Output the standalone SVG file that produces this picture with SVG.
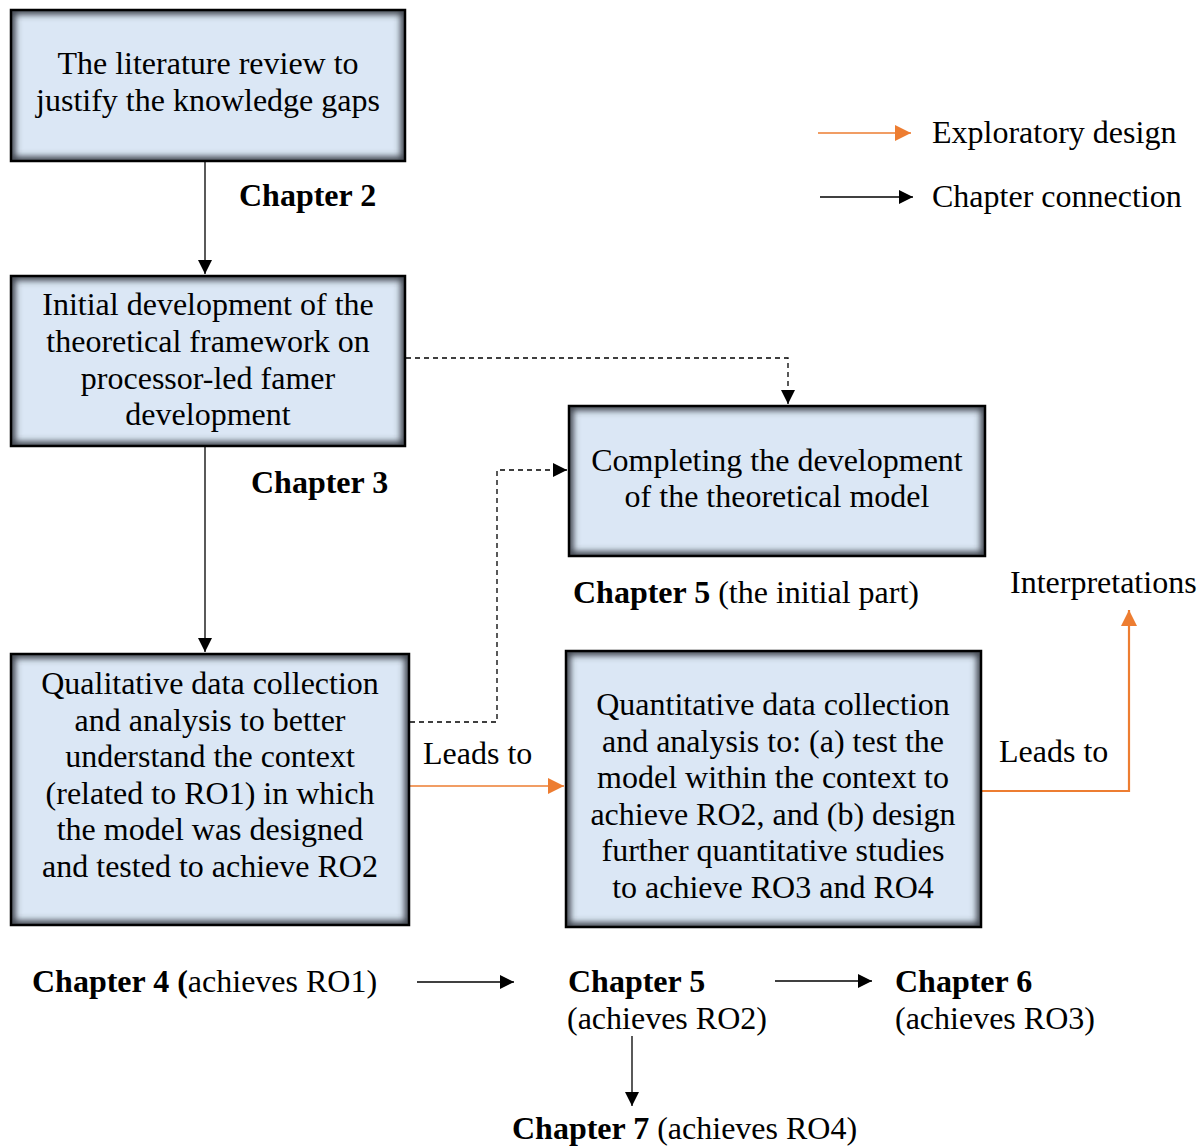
<svg xmlns="http://www.w3.org/2000/svg" width="1204" height="1146" viewBox="0 0 1204 1146">
  <defs>
    <style>
      text { font-family: "Liberation Serif", "Times New Roman", serif; font-size: 32px; fill: #000; }
      .c { text-anchor: middle; }
      .b { font-weight: bold; }
      .fill { fill: #dbe7f5; }
      .shade { fill: none; stroke: #3c434c; stroke-width: 9; filter: url(#soft); }
      .frame { fill: none; stroke: #000; stroke-width: 2.5; }
      .blk { fill: none; stroke: #000; stroke-width: 1.3; }
      .dash { fill: none; stroke: #000; stroke-width: 1.3; stroke-dasharray: 5 4; }
      .org { fill: none; stroke: #ed7d31; stroke-width: 2.2; }
      .orgthin { fill: none; stroke: #ed7d31; stroke-width: 1.5; }
    </style>
    <filter id="soft" x="-10%" y="-10%" width="120%" height="120%">
      <feGaussianBlur stdDeviation="3"/>
    </filter>
    <clipPath id="k1"><rect x="11" y="10" width="394" height="151"/></clipPath>
    <clipPath id="k2"><rect x="11" y="276" width="394" height="170"/></clipPath>
    <clipPath id="k3"><rect x="569" y="406" width="416" height="150"/></clipPath>
    <clipPath id="k4"><rect x="11" y="654" width="398" height="271"/></clipPath>
    <clipPath id="k5"><rect x="566" y="651" width="415" height="276"/></clipPath>
    <marker id="ah" viewBox="0 0 14 14" refX="14" refY="7" markerWidth="14" markerHeight="14" markerUnits="userSpaceOnUse" orient="auto">
      <path d="M0,0 L14,7 L0,14 Z" fill="#000"/>
    </marker>
    <marker id="ahO" viewBox="0 0 16 16" refX="16" refY="8" markerWidth="16" markerHeight="16" markerUnits="userSpaceOnUse" orient="auto">
      <path d="M0,0 L16,8 L0,16 Z" fill="#ed7d31"/>
    </marker>
  </defs>

  <!-- connectors -->
  <g id="connectors">
    <line class="blk" x1="205" y1="162" x2="205" y2="274" marker-end="url(#ah)"/>
    <line class="blk" x1="205" y1="447" x2="205" y2="652" marker-end="url(#ah)"/>
    <path class="dash" d="M406,358 H788 V404" marker-end="url(#ah)"/>
    <path class="dash" d="M410,722 H497 V470 H567" marker-end="url(#ah)"/>
    <line class="orgthin" x1="410" y1="786" x2="564" y2="786" marker-end="url(#ahO)"/>
    <path class="org" d="M982,791 H1129 V610" marker-end="url(#ahO)"/>
    <line class="blk" x1="417" y1="982" x2="514" y2="982" marker-end="url(#ah)"/>
    <line class="blk" x1="775" y1="981" x2="872" y2="981" marker-end="url(#ah)"/>
    <line class="blk" x1="632" y1="1036" x2="632" y2="1106" marker-end="url(#ah)"/>
  </g>

  <!-- legend -->
  <g id="legend">
    <line class="orgthin" x1="818" y1="133" x2="911" y2="133" marker-end="url(#ahO)"/>
    <line class="blk" x1="820" y1="197" x2="913" y2="197" marker-end="url(#ah)"/>
    <text x="932" y="143">Exploratory design</text>
    <text x="932" y="207">Chapter connection</text>
  </g>

  <!-- boxes: light fill, soft inner edge shading, black frame -->
  <g id="literature-review">
    <rect class="fill" x="11" y="10" width="394" height="151"/>
    <g clip-path="url(#k1)"><rect class="shade" x="11" y="10" width="394" height="151"/></g>
    <rect class="frame" x="11" y="10" width="394" height="151"/>
    <text class="c" x="208" y="74">The literature review to</text>
    <text class="c" x="208" y="111">justify the knowledge gaps</text>
  </g>

  <g id="initial-framework">
    <rect class="fill" x="11" y="276" width="394" height="170"/>
    <g clip-path="url(#k2)"><rect class="shade" x="11" y="276" width="394" height="170"/></g>
    <rect class="frame" x="11" y="276" width="394" height="170"/>
    <text class="c" x="208" y="315">Initial development of the</text>
    <text class="c" x="208" y="352">theoretical framework on</text>
    <text class="c" x="208" y="389">processor-led famer</text>
    <text class="c" x="208" y="425">development</text>
  </g>

  <g id="complete-model">
    <rect class="fill" x="569" y="406" width="416" height="150"/>
    <g clip-path="url(#k3)"><rect class="shade" x="569" y="406" width="416" height="150"/></g>
    <rect class="frame" x="569" y="406" width="416" height="150"/>
    <text class="c" x="777" y="471">Completing the development</text>
    <text class="c" x="777" y="507">of the theoretical model</text>
  </g>

  <g id="qualitative">
    <rect class="fill" x="11" y="654" width="398" height="271"/>
    <g clip-path="url(#k4)"><rect class="shade" x="11" y="654" width="398" height="271"/></g>
    <rect class="frame" x="11" y="654" width="398" height="271"/>
    <text class="c" x="210" y="694">Qualitative data collection</text>
    <text class="c" x="210" y="731">and analysis to better</text>
    <text class="c" x="210" y="767">understand the context</text>
    <text class="c" x="210" y="804">(related to RO1) in which</text>
    <text class="c" x="210" y="840">the model was designed</text>
    <text class="c" x="210" y="877">and tested to achieve RO2</text>
  </g>

  <g id="quantitative">
    <rect class="fill" x="566" y="651" width="415" height="276"/>
    <g clip-path="url(#k5)"><rect class="shade" x="566" y="651" width="415" height="276"/></g>
    <rect class="frame" x="566" y="651" width="415" height="276"/>
    <text class="c" x="773" y="715">Quantitative data collection</text>
    <text class="c" x="773" y="752">and analysis to: (a) test the</text>
    <text class="c" x="773" y="788">model within the context to</text>
    <text class="c" x="773" y="825">achieve RO2, and (b) design</text>
    <text class="c" x="773" y="861">further quantitative studies</text>
    <text class="c" x="773" y="898">to achieve RO3 and RO4</text>
  </g>

  <!-- labels -->
  <g id="labels">
    <text class="b" x="239" y="206">Chapter 2</text>
    <text class="b" x="251" y="493">Chapter 3</text>
    <text x="573" y="603"><tspan class="b">Chapter 5</tspan> (the initial part)</text>
    <text x="1010" y="593">Interpretations</text>
    <text x="423" y="764">Leads to</text>
    <text x="999" y="762">Leads to</text>
    <text x="32" y="992"><tspan class="b">Chapter 4 (</tspan>achieves RO1)</text>
    <text class="b" x="568" y="992">Chapter 5</text>
    <text x="567" y="1029">(achieves RO2)</text>
    <text class="b" x="895" y="992">Chapter 6</text>
    <text x="895" y="1029">(achieves RO3)</text>
    <text x="512" y="1139"><tspan class="b">Chapter 7</tspan> (achieves RO4)</text>
  </g>
</svg>
